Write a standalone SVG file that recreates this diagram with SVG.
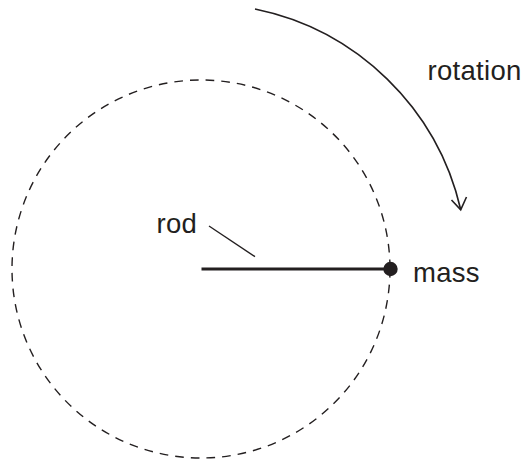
<svg xmlns="http://www.w3.org/2000/svg" width="527" height="461" viewBox="0 0 527 461">
  <style>
    .lbl { font-family: "Liberation Sans", Arial, sans-serif; font-size: 27.5px; letter-spacing: 0.3px; fill: #231f20; }
    .ln { fill: none; stroke: #231f20; stroke-linecap: butt; }
  </style>
  <rect width="527" height="461" fill="#ffffff"/>
  <g id="orbit">
    <circle cx="201" cy="269" r="189" class="ln" stroke-width="1.4" stroke-dasharray="8.7 7"/>
  </g>
  <g id="connectors">
    <line id="rod-line" x1="201.5" y1="269" x2="390" y2="269" class="ln" stroke-width="3"/>
    <line id="rod-leader" x1="209" y1="226" x2="255" y2="256.7" class="ln" stroke-width="1.4"/>
    <path id="rotation-arc" d="M255,9 A266,266 0 0 1 460.7,209.5" class="ln" stroke-width="1.6"/>
    <polyline id="rotation-head" points="451.5,200 460.7,209.8 466.5,197" class="ln" stroke-width="1.6"/>
  </g>
  <g id="mass">
    <circle cx="390.5" cy="269" r="7.2" fill="#231f20"/>
    <text class="lbl" x="413" y="281.5">mass</text>
  </g>
  <g id="rod">
    <text class="lbl" x="156.5" y="232.5">rod</text>
  </g>
  <g id="rotation">
    <text class="lbl" x="427.5" y="80">rotation</text>
  </g>
</svg>
